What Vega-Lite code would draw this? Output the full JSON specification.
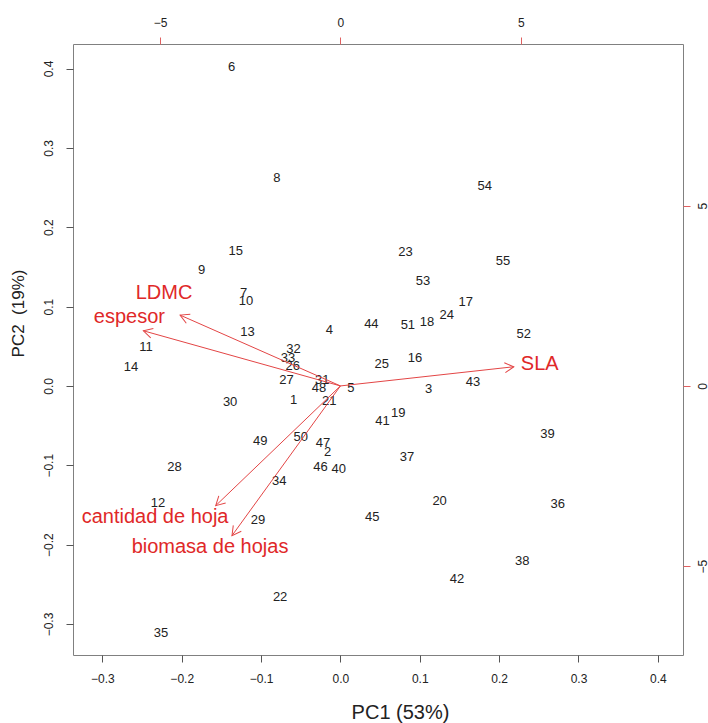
{
  "$schema": "https://vega.github.io/schema/vega-lite/v6.json",
  "width": 610,
  "height": 611,
  "autosize": {"type": "none"},
  "padding": {"left": 73, "top": 44, "right": 25, "bottom": 68},
  "background": "white",
  "config": {
    "view": {"stroke": "#808080", "strokeWidth": 1},
    "font": "Liberation Sans",
    "axis": {"grid": false, "domain": false, "tickSize": 7, "labelFont": "Liberation Sans", "titleFont": "Liberation Sans", "labelFontSize": 12, "labelColor": "#222", "titleColor": "#222", "titleFontWeight": "normal"}
  },
  "datasets": {
    "obs": [
      {"id": "1", "PC1": -0.059, "PC2": -0.018},
      {"id": "2", "PC1": -0.016, "PC2": -0.083},
      {"id": "3", "PC1": 0.111, "PC2": -0.004},
      {"id": "4", "PC1": -0.014, "PC2": 0.070},
      {"id": "5", "PC1": 0.013, "PC2": -0.003},
      {"id": "6", "PC1": -0.137, "PC2": 0.402},
      {"id": "7", "PC1": -0.122, "PC2": 0.117},
      {"id": "8", "PC1": -0.080, "PC2": 0.262},
      {"id": "9", "PC1": -0.175, "PC2": 0.146},
      {"id": "10", "PC1": -0.119, "PC2": 0.107},
      {"id": "11", "PC1": -0.245, "PC2": 0.049},
      {"id": "12", "PC1": -0.230, "PC2": -0.147},
      {"id": "13", "PC1": -0.117, "PC2": 0.068},
      {"id": "14", "PC1": -0.264, "PC2": 0.024},
      {"id": "15", "PC1": -0.132, "PC2": 0.170},
      {"id": "16", "PC1": 0.094, "PC2": 0.035},
      {"id": "17", "PC1": 0.158, "PC2": 0.106},
      {"id": "18", "PC1": 0.109, "PC2": 0.081},
      {"id": "19", "PC1": 0.073, "PC2": -0.034},
      {"id": "20", "PC1": 0.125, "PC2": -0.145},
      {"id": "21", "PC1": -0.014, "PC2": -0.019},
      {"id": "22", "PC1": -0.076, "PC2": -0.266},
      {"id": "23", "PC1": 0.082, "PC2": 0.169},
      {"id": "24", "PC1": 0.134, "PC2": 0.089},
      {"id": "25", "PC1": 0.052, "PC2": 0.027},
      {"id": "26", "PC1": -0.060, "PC2": 0.025},
      {"id": "27", "PC1": -0.068, "PC2": 0.007},
      {"id": "28", "PC1": -0.209, "PC2": -0.102},
      {"id": "29", "PC1": -0.104, "PC2": -0.169},
      {"id": "30", "PC1": -0.139, "PC2": -0.020},
      {"id": "31", "PC1": -0.023, "PC2": 0.007},
      {"id": "32", "PC1": -0.059, "PC2": 0.046},
      {"id": "33", "PC1": -0.066, "PC2": 0.035},
      {"id": "34", "PC1": -0.077, "PC2": -0.120},
      {"id": "35", "PC1": -0.226, "PC2": -0.311},
      {"id": "36", "PC1": 0.274, "PC2": -0.149},
      {"id": "37", "PC1": 0.084, "PC2": -0.090},
      {"id": "38", "PC1": 0.229, "PC2": -0.221},
      {"id": "39", "PC1": 0.261, "PC2": -0.061},
      {"id": "40", "PC1": -0.002, "PC2": -0.105},
      {"id": "41", "PC1": 0.053, "PC2": -0.044},
      {"id": "42", "PC1": 0.147, "PC2": -0.243},
      {"id": "43", "PC1": 0.167, "PC2": 0.005},
      {"id": "44", "PC1": 0.039, "PC2": 0.078},
      {"id": "45", "PC1": 0.040, "PC2": -0.165},
      {"id": "46", "PC1": -0.025, "PC2": -0.102},
      {"id": "47", "PC1": -0.022, "PC2": -0.072},
      {"id": "48", "PC1": -0.027, "PC2": -0.003},
      {"id": "49", "PC1": -0.101, "PC2": -0.070},
      {"id": "50", "PC1": -0.050, "PC2": -0.064},
      {"id": "51", "PC1": 0.085, "PC2": 0.077},
      {"id": "52", "PC1": 0.231, "PC2": 0.066},
      {"id": "53", "PC1": 0.104, "PC2": 0.132},
      {"id": "54", "PC1": 0.182, "PC2": 0.252},
      {"id": "55", "PC1": 0.205, "PC2": 0.158}
    ],
    "vars": [
      {"var": "SLA", "hx": 4.806, "hy": 0.532, "lx": 5.526, "ly": 0.598},
      {"var": "LDMC", "hx": -4.446, "hy": 1.964, "lx": -4.889, "ly": 2.573},
      {"var": "espesor", "hx": -5.463, "hy": 1.529, "lx": -5.850, "ly": 1.909},
      {"var": "cantidad de hoja", "hx": -3.457, "hy": -3.319, "lx": -5.139, "ly": -3.623},
      {"var": "biomasa de hojas", "hx": -3.006, "hy": -4.150, "lx": -3.615, "ly": -4.454}
    ]
  },
  "layer": [
    {
      "data": {"name": "obs"},
      "mark": {"type": "text", "fontSize": 13, "color": "#222", "align": "center", "baseline": "middle", "font": "Liberation Sans"},
      "encoding": {
        "x": {"field": "PC1", "type": "quantitative",
              "scale": {"domain": [-0.337, 0.4317], "nice": false, "zero": false},
              "axis": {"orient": "bottom", "values": [-0.3, -0.2, -0.1, 0, 0.1, 0.2, 0.3, 0.4], "format": ".1f", "tickColor": "#555", "labelPadding": 11, "title": "PC1 (53%)", "titleFontSize": 20, "titleX": 327, "titleY": 63, "titleBaseline": "alphabetic", "titleAnchor": null}},
        "y": {"field": "PC2", "type": "quantitative",
              "scale": {"domain": [-0.3391, 0.4309], "nice": false, "zero": false},
              "axis": {"orient": "left", "values": [-0.3, -0.2, -0.1, 0, 0.1, 0.2, 0.3, 0.4], "format": ".1f", "tickColor": "#555", "labelAngle": -90, "labelAlign": "center", "labelBaseline": "bottom", "labelPadding": 11, "title": "PC2 \u00a0(19%)", "titleFontSize": 17, "titleAngle": -90, "titleX": -55, "titleY": 269, "titleAlign": "center", "titleBaseline": "middle"}},
        "text": {"field": "id"}
      }
    },
    {
      "data": {"name": "vars"},
      "transform": [{"calculate": "-atan2(datum.hy, datum.hx) * 180 / PI", "as": "ang"}],
      "layer": [
        {
          "mark": {"type": "rule", "color": "#e34545", "strokeWidth": 1},
          "encoding": {
            "x": {"field": "hx", "type": "quantitative",
                  "scale": {"domain": [-7.414, 9.497], "nice": false, "zero": false},
                  "axis": {"orient": "top", "values": [-5, 0, 5], "tickColor": "#e06060", "labelPadding": 8, "title": null}},
            "y": {"field": "hy", "type": "quantitative",
                  "scale": {"domain": [-7.46, 9.48], "nice": false, "zero": false},
                  "axis": {"orient": "right", "values": [-5, 0, 5], "tickColor": "#e06060", "labelAngle": -90, "labelAlign": "center", "labelBaseline": "top", "labelPadding": 7, "title": null}},
            "x2": {"datum": 0},
            "y2": {"datum": 0}
          }
        },
        {
          "mark": {"type": "point", "shape": "M -1 -0.55 L 0 0 L -1 0.55", "filled": false, "color": "#e34545", "strokeWidth": 1, "opacity": 1, "size": 324},
          "encoding": {
            "x": {"field": "hx", "type": "quantitative"},
            "y": {"field": "hy", "type": "quantitative"},
            "angle": {"field": "ang", "type": "quantitative", "scale": null}
          }
        },
        {
          "mark": {"type": "text", "fontSize": 20, "color": "#e02828", "align": "center", "baseline": "middle", "font": "Liberation Sans"},
          "encoding": {
            "x": {"field": "lx", "type": "quantitative"},
            "y": {"field": "ly", "type": "quantitative"},
            "text": {"field": "var"}
          }
        }
      ]
    }
  ],
  "resolve": {"scale": {"x": "independent", "y": "independent"}, "axis": {"x": "independent", "y": "independent"}}
}
